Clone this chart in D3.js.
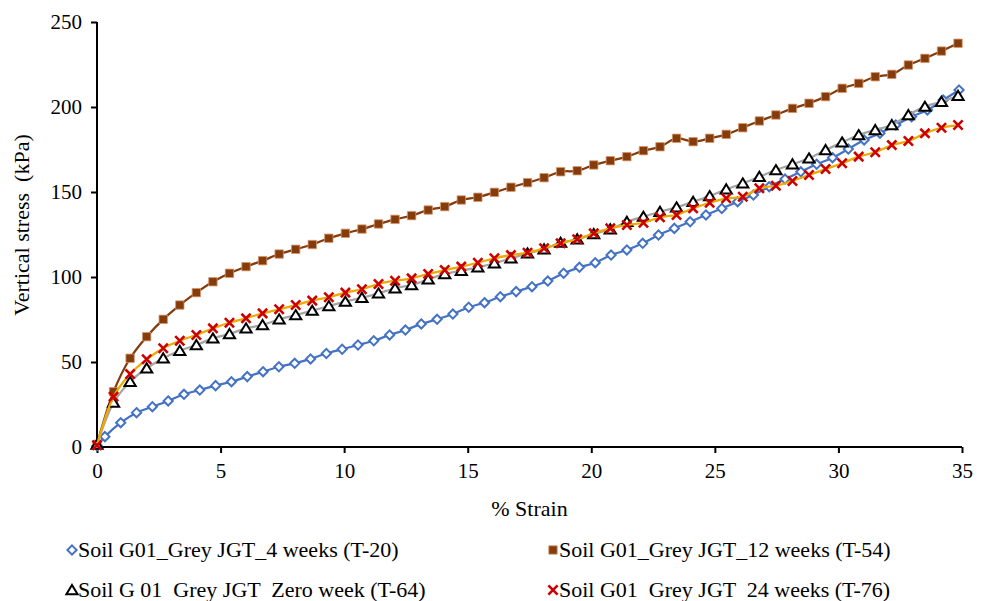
<!DOCTYPE html>
<html>
<head>
<meta charset="utf-8">
<script src="https://cdn.jsdelivr.net/npm/d3@7/dist/d3.min.js"></script>
<style>
  html, body { margin: 0; padding: 0; background: #fff; }
  svg text { font-family: "Liberation Serif", "Times New Roman", serif; fill: #000; white-space: pre; }
</style>
</head>
<body>
<svg id="chart" width="988" height="601"></svg>
<script>
// Strain (%) readings
const strainT20 = [0, 0.32, 0.96, 1.60, 2.24, 2.88, 3.52, 4.16, 4.80, 5.44, 6.08, 6.72, 7.36, 8.00,
  8.64, 9.28, 9.92, 10.56, 11.20, 11.84, 12.48, 13.12, 13.76, 14.40, 15.04, 15.68, 16.32, 16.96,
  17.60, 18.24, 18.88, 19.52, 20.16, 20.80, 21.44, 22.08, 22.72, 23.36, 24.00, 24.64, 25.28, 25.92,
  26.56, 27.20, 27.84, 28.48, 29.12, 29.76, 30.40, 31.04, 31.68, 32.32, 32.96, 33.60, 34.24, 34.88];
const strainOther = [0, 0.67, 1.34, 2.01, 2.68, 3.35, 4.02, 4.69, 5.36, 6.03, 6.70, 7.37, 8.04, 8.71,
  9.38, 10.05, 10.72, 11.39, 12.06, 12.73, 13.40, 14.07, 14.74, 15.41, 16.08, 16.75, 17.42, 18.09,
  18.76, 19.43, 20.10, 20.77, 21.44, 22.11, 22.78, 23.45, 24.12, 24.79, 25.46, 26.13, 26.80, 27.47,
  28.14, 28.81, 29.48, 30.15, 30.82, 31.49, 32.16, 32.83, 33.50, 34.17, 34.84];

// Vertical stress (kPa)
const stressT20 = [0.8, 6.1, 14.3, 20.2, 23.7, 27.1, 31.0, 33.5, 36.1, 38.4, 41.4, 44.3, 47.2, 49.2,
  51.8, 55.0, 57.5, 60.0, 62.5, 65.9, 68.8, 72.4, 75.1, 78.2, 82.2, 84.9, 88.4, 91.4, 94.3, 97.6,
  102.2, 105.7, 108.4, 112.9, 115.9, 119.8, 124.7, 128.6, 132.5, 136.5, 140.3, 144.3, 148.2, 153.1,
  157.6, 161.9, 166.3, 170.2, 175.3, 180.6, 184.5, 189.4, 194.3, 198.2, 204.1, 210.0];
const stressT54 = [1.5, 32.5, 52.2, 64.9, 75.1, 83.5, 90.8, 97.2, 102.2, 106.1, 109.6, 113.5, 116.3,
  119.1, 122.8, 125.7, 128.2, 131.2, 133.9, 136.1, 139.4, 141.4, 145.3, 146.9, 149.8, 152.8, 155.5,
  158.4, 161.9, 162.5, 165.9, 168.4, 170.8, 174.3, 176.6, 181.6, 179.6, 181.6, 183.9, 187.8, 191.8,
  195.3, 199.2, 202.2, 206.1, 211.0, 213.9, 217.8, 219.2, 224.7, 228.6, 232.9, 237.5];
const stressT64 = [1.5, 26.1, 38.4, 46.3, 52.2, 56.6, 60.0, 63.9, 66.5, 69.8, 71.8, 75.1, 77.6, 80.2,
  82.9, 85.5, 87.8, 90.4, 93.4, 95.3, 98.6, 101.8, 103.7, 105.7, 108.1, 111.0, 113.9, 116.3, 120.2,
  122.2, 125.3, 128.1, 132.5, 135.5, 138.4, 141.0, 144.3, 147.6, 151.6, 155.1, 159.0, 162.9, 166.3,
  169.8, 174.7, 179.2, 183.5, 186.5, 189.4, 195.3, 200.2, 203.1, 206.6];
const stressT76 = [1.0, 29.6, 42.9, 51.6, 58.1, 62.5, 65.9, 69.8, 73.1, 75.7, 78.6, 81.0, 83.5, 86.1,
  88.1, 90.8, 92.8, 95.9, 97.8, 99.2, 101.8, 104.1, 106.1, 108.4, 111.0, 112.9, 114.3, 116.9, 119.8,
  122.2, 125.7, 128.6, 130.6, 131.9, 135.1, 136.5, 140.4, 143.7, 146.3, 147.2, 152.2, 153.7, 156.5,
  160.0, 163.5, 166.9, 170.8, 173.4, 177.6, 180.0, 184.5, 187.8, 189.4];

const seriesNames = [
  "Soil G01_Grey JGT_4 weeks (T-20)",
  "Soil G01_Grey JGT_12 weeks (T-54)",
  "Soil G 01  Grey JGT  Zero week (T-64)",
  "Soil G01  Grey JGT  24 weeks (T-76)"
];
const xTicks = [0, 5, 10, 15, 20, 25, 30, 35];
const yTicks = [0, 50, 100, 150, 200, 250];

const series = [
  { name: seriesNames[0], xs: strainT20, ys: stressT20, line: "#4472C4", marker: "diamond", mStroke: "#4472C4", mFill: "#fff" },
  { name: seriesNames[1], xs: strainOther, ys: stressT54, line: "#843C0C", marker: "square", mStroke: "#D9956B", mFill: "#843C0C" },
  { name: seriesNames[2], xs: strainOther, ys: stressT64, line: "#A5A5A5", marker: "triangle", mStroke: "#000", mFill: "#fff" },
  { name: seriesNames[3], xs: strainOther, ys: stressT76, line: "#EDAA00", marker: "cross", mStroke: "#CC0000", mFill: "none" }
];

const svg = d3.select("#chart");
const x = d3.scaleLinear().domain([0, 35]).range([97, 962]);
const y = d3.scaleLinear().domain([0, 250]).range([447, 22]);

// Axes
const xAxis = svg.append("g").attr("transform", "translate(0,447)")
  .call(d3.axisBottom(x).tickValues(xTicks).tickSize(6).tickPadding(10).tickFormat(d3.format("d")));
const yAxis = svg.append("g").attr("transform", "translate(97,0)")
  .call(d3.axisLeft(y).tickValues(yTicks).tickSize(6).tickPadding(9).tickFormat(d3.format("d")));
[xAxis, yAxis].forEach(a => {
  a.select(".domain").attr("stroke", "#000").attr("stroke-width", 2);
  a.selectAll(".tick line").attr("stroke", "#000").attr("stroke-width", 2);
  a.selectAll(".tick text").attr("font-size", 21).attr("font-family", "Liberation Serif");
});
// axis domain without the outer end caps
xAxis.select(".domain").attr("d", `M${x(0)},0H${x(35)}`);
yAxis.select(".domain").attr("d", `M0,${y(0)}V${y(250)}`);

svg.append("text").attr("x", x(17.5)).attr("y", 516).attr("text-anchor", "middle")
  .attr("font-size", 22).text("% Strain");
svg.append("text").attr("transform", "translate(29,225) rotate(-90)").attr("text-anchor", "middle")
  .attr("font-size", 22).text("Vertical stress  (kPa)");

// Marker shapes
function markerPath(type) {
  switch (type) {
    case "diamond": return "M0,-4.6L4.6,0L0,4.6L-4.6,0Z";
    case "square": return "M-4.2,-4.2H4.2V4.2H-4.2Z";
    case "triangle": return "M0,-5L5.6,4.2H-5.6Z";
    case "cross": return "M-4.6,-4.6L4.6,4.6M4.6,-4.6L-4.6,4.6";
  }
}
function drawMarker(sel, s) {
  sel.attr("d", markerPath(s.marker))
    .attr("fill", s.mFill)
    .attr("stroke", s.mStroke)
    .attr("stroke-width", s.marker === "square" ? 0.8 : (s.marker === "cross" ? 2.6 : 2));
}

const line = d3.line().curve(d3.curveCatmullRom.alpha(0.5));
const plot = svg.append("g");
series.forEach(s => {
  const pts = s.xs.map((v, i) => [x(v), y(s.ys[i])]);
  const g = plot.append("g");
  g.append("path").attr("d", line(pts)).attr("fill", "none")
    .attr("stroke", s.line).attr("stroke-width", 2.25);
  g.selectAll("path.m").data(pts).join("path").attr("class", "m")
    .attr("transform", d => `translate(${d[0]},${d[1]})`)
    .call(sel => drawMarker(sel, s));
});

// Legend
const legendPos = [[72, 550], [553, 550], [72, 590], [553, 590]];
series.forEach((s, i) => {
  const [lx, ly] = legendPos[i];
  svg.append("path").attr("transform", `translate(${lx},${ly})`).call(sel => drawMarker(sel, s));
  svg.append("text").attr("x", lx + 6).attr("y", ly + 7).attr("font-size", 22).text(s.name);
});
</script>
</body>
</html>
